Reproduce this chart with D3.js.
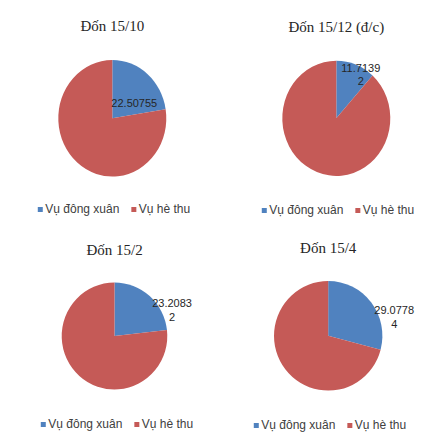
<!DOCTYPE html>
<html>
<head>
<meta charset="utf-8">
<script src="https://cdn.jsdelivr.net/npm/d3@7"></script>
<style>
  body { margin: 0; background: #fff; }
  svg { display: block; }
</style>
</head>
<body>
<svg id="chart"></svg>
<script>
var width = 436, height = 443;

// data
var titles = ["Đốn 15/10", "Đốn 15/12 (đ/c)", "Đốn 15/2", "Đốn 15/4"];
var seriesNames = ["Vụ đông xuân", "Vụ hè thu"];
var dongXuan = [22.50755, 11.71392, 23.20832, 29.07784];
var heThu = [77.49245, 88.28608, 76.79168, 70.92216];
var colors = ["#5082BF", "#C55A57"];

// where each small pie sits on the page
var layout = [
    { cx: 112.3, cy: 118.3, rx: 54, ry: 58.3, titleY: 31, legendY: 213, legendCx: 114, label: [22, -15], wrap: 0 },
    { cx: 336.3, cy: 118.3, rx: 54, ry: 57.6, titleY: 32, legendY: 214, legendCx: 338, label: [24.5, -44], wrap: 7 },
    { cx: 114.5, cy: 336, rx: 52.8, ry: 53.5, titleY: 255, legendY: 428, legendCx: 117, label: [57.6, -26], wrap: 7 },
    { cx: 328.2, cy: 335.8, rx: 54.2, ry: 54.8, titleY: 253, legendY: 429, legendCx: 330, label: [66, -19], wrap: 7 }
];

var svg = d3.select('#chart')
    .attr('width', width)
    .attr('height', height)
    .attr('viewBox', `0 0 ${width} ${height}`);

var pie = d3.pie().sort(null).value(d => d);

function drawPie(i) {
    var L = layout[i];
    var values = [dongXuan[i], heThu[i]];
    var g = svg.append('g');

    g.append('text')
        .attr('x', L.cx)
        .attr('y', L.titleY)
        .attr('text-anchor', 'middle')
        .attr('font-family', '"Liberation Serif", "Times New Roman", serif')
        .attr('font-size', 15)
        .attr('fill', '#262626')
        .text(titles[i]);

    var arc = d3.arc().innerRadius(0).outerRadius(L.rx);

    g.append('g')
        .attr('transform', `translate(${L.cx},${L.cy}) scale(1,${L.ry / L.rx})`)
        .selectAll('path')
        .data(pie(values))
        .join('path')
        .attr('fill', (d, j) => colors[j])
        .attr('d', arc);

    // data label for the first slice only (as in the original)
    var str = String(dongXuan[i]);
    var lines = L.wrap ? [str.slice(0, L.wrap), str.slice(L.wrap)] : [str];
    var lineH = 13.5;
    var label = g.append('text')
        .attr('text-anchor', 'middle')
        .attr('font-family', '"Liberation Sans", Arial, sans-serif')
        .attr('font-size', 11)
        .attr('fill', '#262626');
    lines.forEach((t, k) => {
        label.append('tspan')
            .attr('x', L.cx + L.label[0])
            .attr('y', L.cy + L.label[1] - lineH * (lines.length - 1) / 2 + lineH * k + 4)
            .text(t);
    });

    // legend
    var legend = g.append('g');
    var items = legend.selectAll('g')
        .data(seriesNames)
        .join('g');
    items.append('rect')
        .attr('width', 5)
        .attr('height', 5)
        .attr('y', L.legendY - 6)
        .attr('fill', (d, j) => colors[j]);
    items.append('text')
        .attr('x', 7.5)
        .attr('y', L.legendY)
        .attr('font-family', '"Liberation Sans", Arial, sans-serif')
        .attr('font-size', 12)
        .attr('fill', '#404040')
        .text(d => d);

    var x = 0;
    var gap = 12;
    items.each(function () {
        var w = this.getBBox().width;
        d3.select(this).attr('data-x', x);
        x += w + gap;
    });
    var total = x - gap;
    var left = L.legendCx - total / 2;
    items.attr('transform', function () {
        return `translate(${left + (+d3.select(this).attr('data-x'))},0)`;
    });
}

titles.forEach((t, i) => drawPie(i));
</script>
</body>
</html>
